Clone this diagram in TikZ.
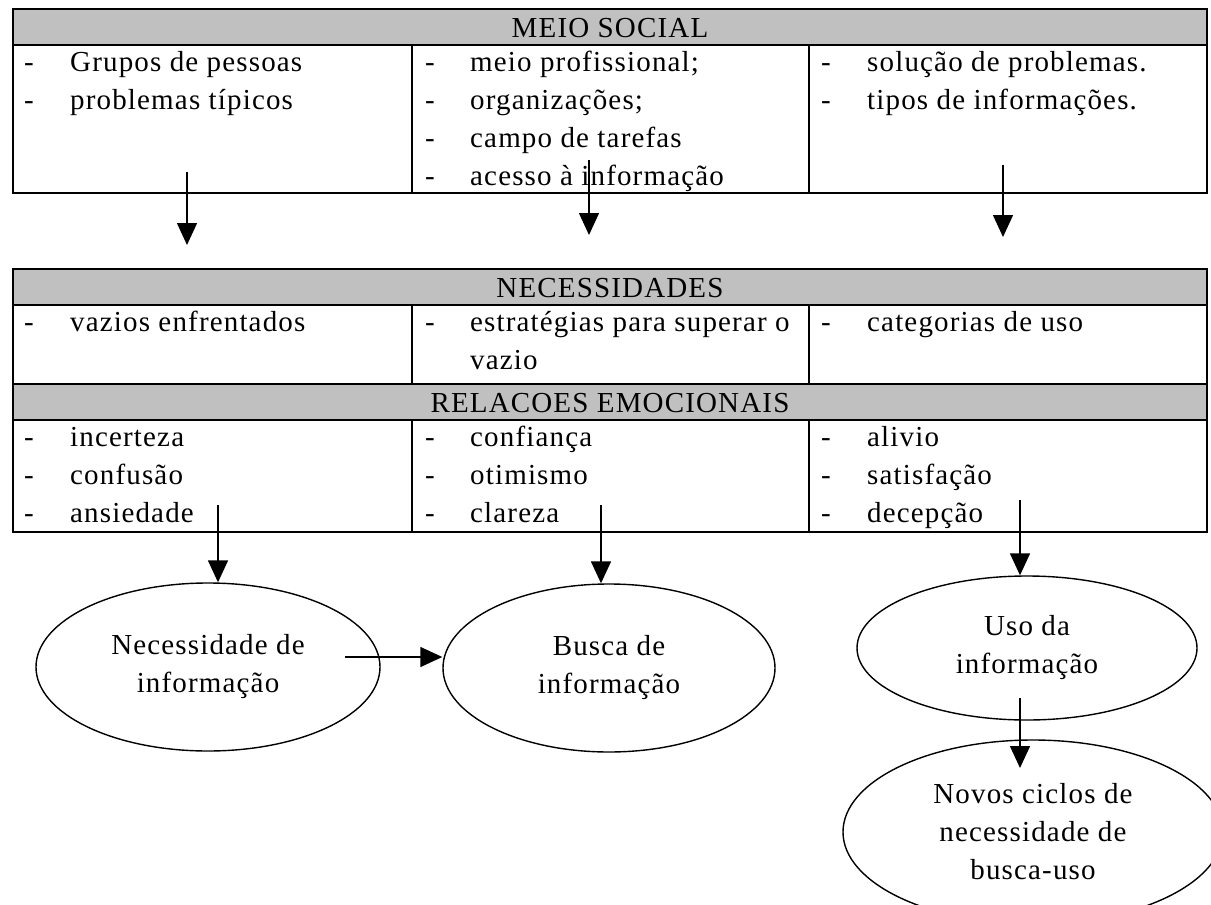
\documentclass[tikz,border=0pt]{standalone}
\usepackage{fontspec}
\setmainfont{Liberation Serif}
\newfontfamily\cellfont[LetterSpace=4]{Liberation Serif}
\usetikzlibrary{shapes,arrows.meta,positioning}

\definecolor{hdrgray}{RGB}{192,192,192}
\newcommand{\txt}{\cellfont\fontsize{29}{38}\selectfont}

\tikzset{
  hdr/.style={draw=black, line width=2pt, fill=hdrgray},
  grade/.style={draw=black, line width=2pt},
  titulo/.style={font=\txt, inner sep=0pt},
  cell/.style={anchor=north west, inner sep=0pt, font=\txt},
  balao/.style={draw, ellipse, line width=1.4pt, inner sep=0pt, font=\txt, align=center},
  seta/.style={line width=1.5pt, -{Triangle[width=20pt,length=22pt]}},
}

\begin{document}
\begin{tikzpicture}[x=1pt, y=-1pt]
  \useasboundingbox (0,0) rectangle (1211,905);

  % meio social
  \draw[hdr] (13,9) rectangle (1207,45);
  \node[titulo] (hsocial) at (610,28) {MEIO SOCIAL};
  \draw[grade] (13,45) rectangle (1207,193) (412,45) -- (412,193) (809,45) -- (809,193);
  \node[cell] (s1) at (24,45) {\begin{tabular}{@{}p{46pt}@{}l@{}}
    - & Grupos de pessoas\\ - & problemas típicos\end{tabular}};
  \node[cell] (s2) at (425,45) {\begin{tabular}{@{}p{45pt}@{}l@{}}
    - & meio profissional;\\ - & organizações;\\ - & campo de tarefas\\ - & acesso à informação\end{tabular}};
  \node[cell] (s3) at (821,45) {\begin{tabular}{@{}p{46pt}@{}l@{}}
    - & solução de problemas.\\ - & tipos de informações.\end{tabular}};

  % necessidades + relacoes emocionais
  \draw[hdr] (13,269) rectangle (1207,305);
  \node[titulo] (hnec) at (610,288) {NECESSIDADES};
  \draw[grade] (13,305) rectangle (1207,384) (412,305) -- (412,384) (809,305) -- (809,384);
  \node[cell] (n1) at (24,305) {\begin{tabular}{@{}p{46pt}@{}l@{}}
    - & vazios enfrentados\end{tabular}};
  \node[cell] (n2) at (425,305) {\begin{tabular}{@{}p{45pt}@{}l@{}}
    - & estratégias para superar o\\ & vazio\end{tabular}};
  \node[cell] (n3) at (821,305) {\begin{tabular}{@{}p{46pt}@{}l@{}}
    - & categorias de uso\end{tabular}};

  \draw[hdr] (13,384) rectangle (1207,420);
  \node[titulo] (hrel) at (610,403) {RELACOES EMOCIONAIS};
  \draw[grade] (13,420) rectangle (1207,532) (412,420) -- (412,532) (809,420) -- (809,532);
  \node[cell] (r1) at (24,420) {\begin{tabular}{@{}p{46pt}@{}l@{}}
    - & incerteza\\ - & confusão\\ - & ansiedade\end{tabular}};
  \node[cell] (r2) at (425,420) {\begin{tabular}{@{}p{45pt}@{}l@{}}
    - & confiança\\ - & otimismo\\ - & clareza\end{tabular}};
  \node[cell] (r3) at (821,420) {\begin{tabular}{@{}p{46pt}@{}l@{}}
    - & alivio\\ - & satisfação\\ - & decepção\end{tabular}};

  % ciclo
  \node[balao, minimum width=344pt, minimum height=168pt] (nec) at (208,667) {Necessidade de\\informação};
  \node[balao, minimum width=332pt, minimum height=168pt] (busca) at (609,668) {Busca de\\informação};
  \node[balao, minimum width=340pt, minimum height=144pt] (uso) at (1027,648) {Uso da\\informação};
  \node[balao, minimum width=380pt, minimum height=184pt] (novos) at (1033,832) {Novos ciclos de\\necessidade de\\busca-uso};

  % setas
  \coordinate (a1) at (187,172);
  \coordinate (a2) at (589,160);
  \coordinate (a3) at (1003,165);
  \coordinate (b1) at (218,505);
  \coordinate (b2) at (601,505);
  \coordinate (b3) at (1020,500);
  \coordinate (c1) at (345,657);
  \coordinate (d1) at (1020,698);
  \coordinate (d2) at (1020,768);
  \draw[seta] (a1) -- ++(0,73);
  \draw[seta] (a2) -- ++(0,75);
  \draw[seta] (a3) -- ++(0,72);
  \draw[seta] (b1) -- (b1 |- nec.north);
  \draw[seta] (b2) -- (b2 |- busca.north);
  \draw[seta] (b3) -- (b3 |- uso.north);
  \draw[seta] (c1) -- (c1 -| busca.west);
  \draw[seta] (d1) -- (d2);
\end{tikzpicture}
\end{document}
